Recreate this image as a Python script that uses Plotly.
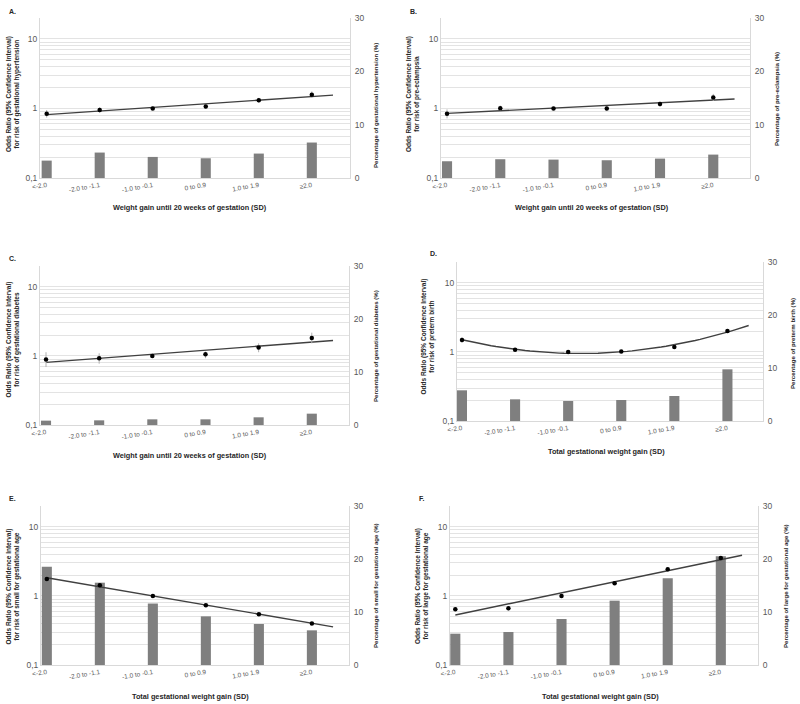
import numpy as np
import plotly.graph_objects as go

categories = ["<-2.0", "-2.0 to -1.1", "-1.0 to -0.1", "0 to 0.9", "1.0 to 1.9", "≥2.0"]
cat_pos = [0, 1, 2, 3, 4, 5]

# Odds ratios (left log axis)
or_A = [0.84, 0.95, 1.0, 1.07, 1.31, 1.58]
or_B = [0.84, 1.01, 1.0, 1.0, 1.155, 1.44]
or_C = [0.885, 0.925, 1.0, 1.06, 1.32, 1.82]
or_D = [1.49, 1.07, 1.0, 1.01, 1.18, 2.0]
or_E = [1.76, 1.43, 1.0, 0.733, 0.542, 0.40]
or_F = [0.64, 0.66, 1.0, 1.53, 2.43, 3.55]

# 95% CI bounds
lo_A = [0.74, 0.87, 1.0, 0.99, 1.21, 1.42]
hi_A = [0.95, 1.04, 1.0, 1.15, 1.42, 1.76]
lo_B = [0.72, 0.93, 1.0, 0.93, 1.06, 1.28]
hi_B = [0.97, 1.10, 1.0, 1.08, 1.26, 1.62]
lo_C = [0.69, 0.77, 1.0, 0.925, 1.13, 1.52]
hi_C = [1.13, 1.09, 1.0, 1.155, 1.52, 2.17]
lo_D = [1.36, 1.00, 1.0, 0.96, 1.10, 1.88]
hi_D = [1.63, 1.14, 1.0, 1.06, 1.27, 2.13]
lo_E = [1.68, 1.37, 1.0, 0.71, 0.52, 0.38]
hi_E = [1.85, 1.49, 1.0, 0.76, 0.565, 0.42]
lo_F = [0.60, 0.62, 1.0, 1.47, 2.33, 3.40]
hi_F = [0.69, 0.70, 1.0, 1.60, 2.53, 3.70]

# Percentages (right axis bars)
pct_A = [3.26, 4.77, 3.95, 3.70, 4.58, 6.65]
pct_B = [3.14, 3.52, 3.45, 3.33, 3.64, 4.39]
pct_C = [0.82, 0.88, 1.07, 1.07, 1.45, 2.14]
pct_D = [5.79, 4.09, 3.77, 3.96, 4.72, 9.75]
pct_E = [18.55, 15.53, 11.6, 9.18, 7.74, 6.54]
pct_F = [5.91, 6.23, 8.68, 12.14, 16.35, 20.5]

labels = ["A.", "B.", "C.", "D.", "E.", "F."]
outcomes = ["gestational hypertension", "pre-eclampsia", "gestational diabetes",
            "preterm birth", "small for gestational age", "large for gestational age"]
xtitles = ["Weight gain until 20 weeks of gestation (SD)"] * 3 + ["Total gestational weight gain (SD)"] * 3
fit_degree = [1, 1, 1, 2, 1, 1]

ors = [or_A, or_B, or_C, or_D, or_E, or_F]
los = [lo_A, lo_B, lo_C, lo_D, lo_E, lo_F]
his = [hi_A, hi_B, hi_C, hi_D, hi_E, hi_F]
pcts = [pct_A, pct_B, pct_C, pct_D, pct_E, pct_F]

W, H = 800, 704
# plot boxes in pixels: (left, right, top, bottom)
boxes = [(40, 350, 18, 178), (441, 750, 18, 178),
         (40, 349, 266, 425), (457, 763, 262, 421),
         (41, 349, 506, 665), (450, 758, 506, 665)]
xranges = [[-0.126, 5.72], [-0.113, 5.69], [-0.113, 5.70],
           [-0.094, 5.67], [-0.11, 5.70], [-0.10, 5.70]]
label_pos = [(12, 11), (414, 11), (12, 258), (433, 253), (12, 498), (422, 498)]
ltitle_pos = [(13, 94), (413, 94), (12.5, 340), (427.5, 337), (12.5, 587), (422, 586)]
rtitle_pos = [(375, 106), (776, 99), (375, 346), (792, 344), (375, 586), (785, 586)]
xtitle_pos = [(190, 208), (592, 208), (190, 455), (606, 451), (190, 696), (600, 696)]

grid_vals = [0.1, 0.2, 0.3, 0.4, 0.5, 0.6, 0.7, 0.8, 0.9, 1, 2, 3, 4, 5, 6, 7, 8, 9, 10, 20]
grid_text = ["0,1" if v == 0.1 else ("1" if v == 1 else ("10" if v == 10 else "")) for v in grid_vals]

tick_color = "#595959"
line_color = "#d9d9d9"
font_family = "Liberation Sans, Arial, sans-serif"

fig = go.Figure()
layout = dict(width=W, height=H, margin=dict(l=0, r=0, t=0, b=0, pad=0, autoexpand=False),
              paper_bgcolor="white", plot_bgcolor="white", showlegend=False,
              font=dict(family=font_family, color=tick_color))
annotations = []

for i in range(6):
    n = i + 1
    L, R, T, B = boxes[i]
    xdom = [L / W, R / W]
    ydom = [1 - B / H, 1 - T / H]
    xa = "x" if n == 1 else f"x{n}"
    ya_pct = "y" if n == 1 else f"y{n}"
    ya_or = f"y{n + 6}"

    layout[f"xaxis{'' if n == 1 else n}"] = dict(
        domain=xdom, range=xranges[i], anchor=ya_pct, automargin=False,
        tickmode="array", tickvals=cat_pos, ticktext=categories,
        tickangle=-10, tickfont=dict(size=6.5, color=tick_color),
        showgrid=False, zeroline=False, showline=True, linecolor=line_color,
        linewidth=1, ticks="", fixedrange=True)
    layout[f"yaxis{'' if n == 1 else n}"] = dict(
        domain=ydom, range=[0, 30], anchor=xa, side="right", automargin=False,
        tickvals=[0, 10, 20, 30], tickfont=dict(size=8.5, color=tick_color),
        showgrid=False, zeroline=False, showline=True, linecolor=line_color,
        linewidth=1, ticks="", ticklabelstandoff=2)
    layout[f"yaxis{n + 6}"] = dict(
        type="log", range=[-1, np.log10(20)], overlaying=ya_pct, anchor=xa,
        side="left", tickmode="array", tickvals=grid_vals, ticktext=grid_text,
        tickfont=dict(size=8.5, color=tick_color), automargin=False,
        showgrid=True, gridcolor="#e3e3e3", gridwidth=1, zeroline=False,
        showline=True, linecolor=line_color, linewidth=1, ticks="")

    fig.add_trace(go.Bar(x=cat_pos, y=pcts[i], xaxis=xa, yaxis=ya_pct,
                         width=0.19, marker=dict(color="#7f7f7f", line=dict(width=0)),
                         hoverinfo="skip"))

    # trendline fitted on log(OR), like an exponential / polynomial trendline
    coef = np.polyfit(cat_pos, np.log(ors[i]), fit_degree[i])
    xs = np.linspace(0, 5.4, 60)
    fig.add_trace(go.Scatter(x=xs, y=np.exp(np.polyval(coef, xs)), xaxis=xa, yaxis=ya_or,
                             mode="lines", line=dict(color="#404040", width=1.4),
                             hoverinfo="skip"))

    o = np.array(ors[i]); lo = np.array(los[i]); hi = np.array(his[i])
    fig.add_trace(go.Scatter(x=cat_pos, y=o, xaxis=xa, yaxis=ya_or, mode="markers",
                             marker=dict(color="black", size=4.5),
                             error_y=dict(type="data", symmetric=False, array=hi - o,
                                          arrayminus=o - lo, color="#b0b0b0",
                                          thickness=1, width=0)))

    common = dict(xref="paper", yref="paper", showarrow=False,
                  xanchor="center", yanchor="middle")
    lx, ly = label_pos[i]
    annotations.append(dict(x=lx / W, y=1 - ly / H, text=f"<b>{labels[i]}</b>",
                            font=dict(size=7, color="#262626"), **common))
    tx, ty = ltitle_pos[i]
    annotations.append(dict(x=tx / W, y=1 - ty / H,
                            text=f"<b>Odds Ratio (95% Confidence Interval)<br>for risk of {outcomes[i]}</b>",
                            textangle=-90, font=dict(size=6.5, color="#262626"), **common))
    rx, ry = rtitle_pos[i]
    annotations.append(dict(x=rx / W, y=1 - ry / H,
                            text=f"<b>Percentage of {outcomes[i]} (%)</b>",
                            textangle=-90, font=dict(size=6.1, color="#262626"), **common))
    xx, xy = xtitle_pos[i]
    annotations.append(dict(x=xx / W, y=1 - xy / H, text=f"<b>{xtitles[i]}</b>",
                            font=dict(size=7.3, color="#262626"), **common))

layout["annotations"] = annotations
fig.update_layout(**layout)
fig.write_html("out.html", config={"displayModeBar": False},
               post_script="document.body.style.margin='0';document.body.style.padding='0';")
